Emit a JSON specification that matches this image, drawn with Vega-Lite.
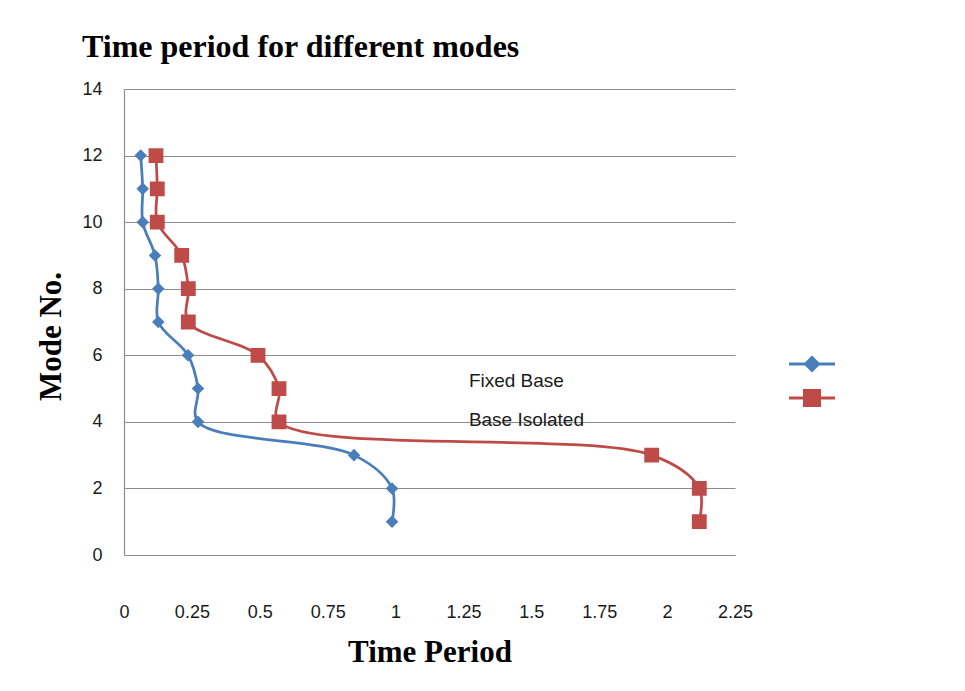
{
  "$schema": "https://vega.github.io/schema/vega-lite/v6.json",
  "width": 611,
  "height": 466,
  "autosize": {"type": "none"},
  "padding": {"left": 124, "top": 89, "right": 230, "bottom": 136},
  "background": "white",
  "title": {
    "text": "Time period for different modes",
    "anchor": "start",
    "frame": "group",
    "dx": -42,
    "offset": 16,
    "font": "Liberation Serif",
    "fontSize": 32,
    "fontWeight": "bold",
    "color": "#000000"
  },
  "config": {"view": {"stroke": null}},
  "datasets": {
    "periods": [
      {"series": "Fixed Base", "mode": 1, "period": 0.987},
      {"series": "Fixed Base", "mode": 2, "period": 0.987},
      {"series": "Fixed Base", "mode": 3, "period": 0.847},
      {"series": "Fixed Base", "mode": 4, "period": 0.2725},
      {"series": "Fixed Base", "mode": 5, "period": 0.2725},
      {"series": "Fixed Base", "mode": 6, "period": 0.2357},
      {"series": "Fixed Base", "mode": 7, "period": 0.1263},
      {"series": "Fixed Base", "mode": 8, "period": 0.1263},
      {"series": "Fixed Base", "mode": 9, "period": 0.1142},
      {"series": "Fixed Base", "mode": 10, "period": 0.0689},
      {"series": "Fixed Base", "mode": 11, "period": 0.0689},
      {"series": "Fixed Base", "mode": 12, "period": 0.0615},
      {"series": "Base Isolated", "mode": 1, "period": 2.1185},
      {"series": "Base Isolated", "mode": 2, "period": 2.1185},
      {"series": "Base Isolated", "mode": 3, "period": 1.9432},
      {"series": "Base Isolated", "mode": 4, "period": 0.5708},
      {"series": "Base Isolated", "mode": 5, "period": 0.5708},
      {"series": "Base Isolated", "mode": 6, "period": 0.4934},
      {"series": "Base Isolated", "mode": 7, "period": 0.2368},
      {"series": "Base Isolated", "mode": 8, "period": 0.2368},
      {"series": "Base Isolated", "mode": 9, "period": 0.2125},
      {"series": "Base Isolated", "mode": 10, "period": 0.1226},
      {"series": "Base Isolated", "mode": 11, "period": 0.1226},
      {"series": "Base Isolated", "mode": 12, "period": 0.1178}
    ],
    "notes": [
      {"label": "Fixed Base", "period": 1.27, "mode": 5.23},
      {"label": "Base Isolated", "period": 1.27, "mode": 4.06}
    ]
  },
  "layer": [
    {
      "data": {"name": "periods"},
      "mark": {"type": "line", "interpolate": "catmull-rom", "strokeWidth": 2.75},
      "encoding": {
        "x": {
          "field": "period",
          "type": "quantitative",
          "scale": {"domain": [0, 2.25], "nice": false, "zero": false},
          "axis": {
            "title": "Time Period",
            "titleFont": "Liberation Serif",
            "titleFontSize": 31,
            "titleFontWeight": "bold",
            "titleColor": "#000000",
            "titlePadding": 16,
            "values": [0, 0.25, 0.5, 0.75, 1, 1.25, 1.5, 1.75, 2, 2.25],
            "labelExpr": "'' + datum.value",
            "labelFont": "Liberation Sans",
            "labelFontSize": 18,
            "labelColor": "#1a1a1a",
            "labelPadding": 48,
            "labelFlush": false,
            "labelOverlap": false,
            "ticks": false,
            "grid": false,
            "domainColor": "#8c8c8c",
            "domainWidth": 1.2
          }
        },
        "y": {
          "field": "mode",
          "type": "quantitative",
          "scale": {"domain": [0, 14], "nice": false, "zero": false},
          "axis": {
            "title": "Mode No.",
            "titleFont": "Liberation Serif",
            "titleFontSize": 31,
            "titleFontWeight": "bold",
            "titleColor": "#000000",
            "titlePadding": 14,
            "titleY": 247,
            "values": [0, 2, 4, 6, 8, 10, 12, 14],
            "labelExpr": "'' + datum.value",
            "labelFont": "Liberation Sans",
            "labelFontSize": 18,
            "labelColor": "#1a1a1a",
            "labelPadding": 22,
            "ticks": false,
            "grid": true,
            "gridColor": "#8c8c8c",
            "gridWidth": 1.2,
            "domainColor": "#8c8c8c",
            "domainWidth": 1.2
          }
        },
        "color": {
          "field": "series",
          "type": "nominal",
          "scale": {"domain": ["Fixed Base", "Base Isolated"], "range": ["#4A7EBB", "#BE4B48"]},
          "legend": {
            "title": null,
            "orient": "none",
            "legendX": 667,
            "legendY": 254,
            "padding": 0,
            "rowPadding": 0,
            "labelExpr": "''",
            "symbolSize": 1444,
            "symbolStrokeWidth": 3.2,
            "encode": {"symbols": {"update": {"stroke": {"scale": "color", "field": "value"}}}}
          }
        },
        "order": {"field": "mode", "type": "quantitative"}
      }
    },
    {
      "data": {"name": "periods"},
      "mark": {"type": "point", "filled": true, "size": 1444, "opacity": 1},
      "encoding": {
        "x": {"field": "period", "type": "quantitative"},
        "y": {"field": "mode", "type": "quantitative"},
        "color": {
          "field": "series",
          "type": "nominal",
          "legend": {
            "title": null,
            "orient": "none",
            "legendX": 667,
            "legendY": 254,
            "padding": 0,
            "rowPadding": 0,
            "labelExpr": "''",
            "symbolSize": 1444,
            "symbolStrokeWidth": 3.2,
            "encode": {"symbols": {"update": {"stroke": {"scale": "color", "field": "value"}}}}
          }
        },
        "shape": {
          "field": "series",
          "type": "nominal",
          "scale": {
            "domain": ["Fixed Base", "Base Isolated"],
            "range": [
              "M-1.21,0H1.21M0,-0.33L0.33,0L0,0.33L-0.33,0Z",
              "M-1.21,0H1.21M-0.39,-0.39H0.39V0.39H-0.39Z"
            ]
          },
          "legend": {
            "title": null,
            "orient": "none",
            "legendX": 667,
            "legendY": 254,
            "padding": 0,
            "rowPadding": 0,
            "labelExpr": "''",
            "symbolSize": 1444,
            "symbolStrokeWidth": 3.2,
            "encode": {"symbols": {"update": {"stroke": {"scale": "color", "field": "value"}}}}
          }
        }
      }
    },
    {
      "data": {"name": "notes"},
      "mark": {"type": "text", "align": "left", "baseline": "middle", "font": "Liberation Sans", "fontSize": 19, "color": "#1a1a1a"},
      "encoding": {
        "x": {"field": "period", "type": "quantitative"},
        "y": {"field": "mode", "type": "quantitative"},
        "text": {"field": "label"}
      }
    }
  ]
}
